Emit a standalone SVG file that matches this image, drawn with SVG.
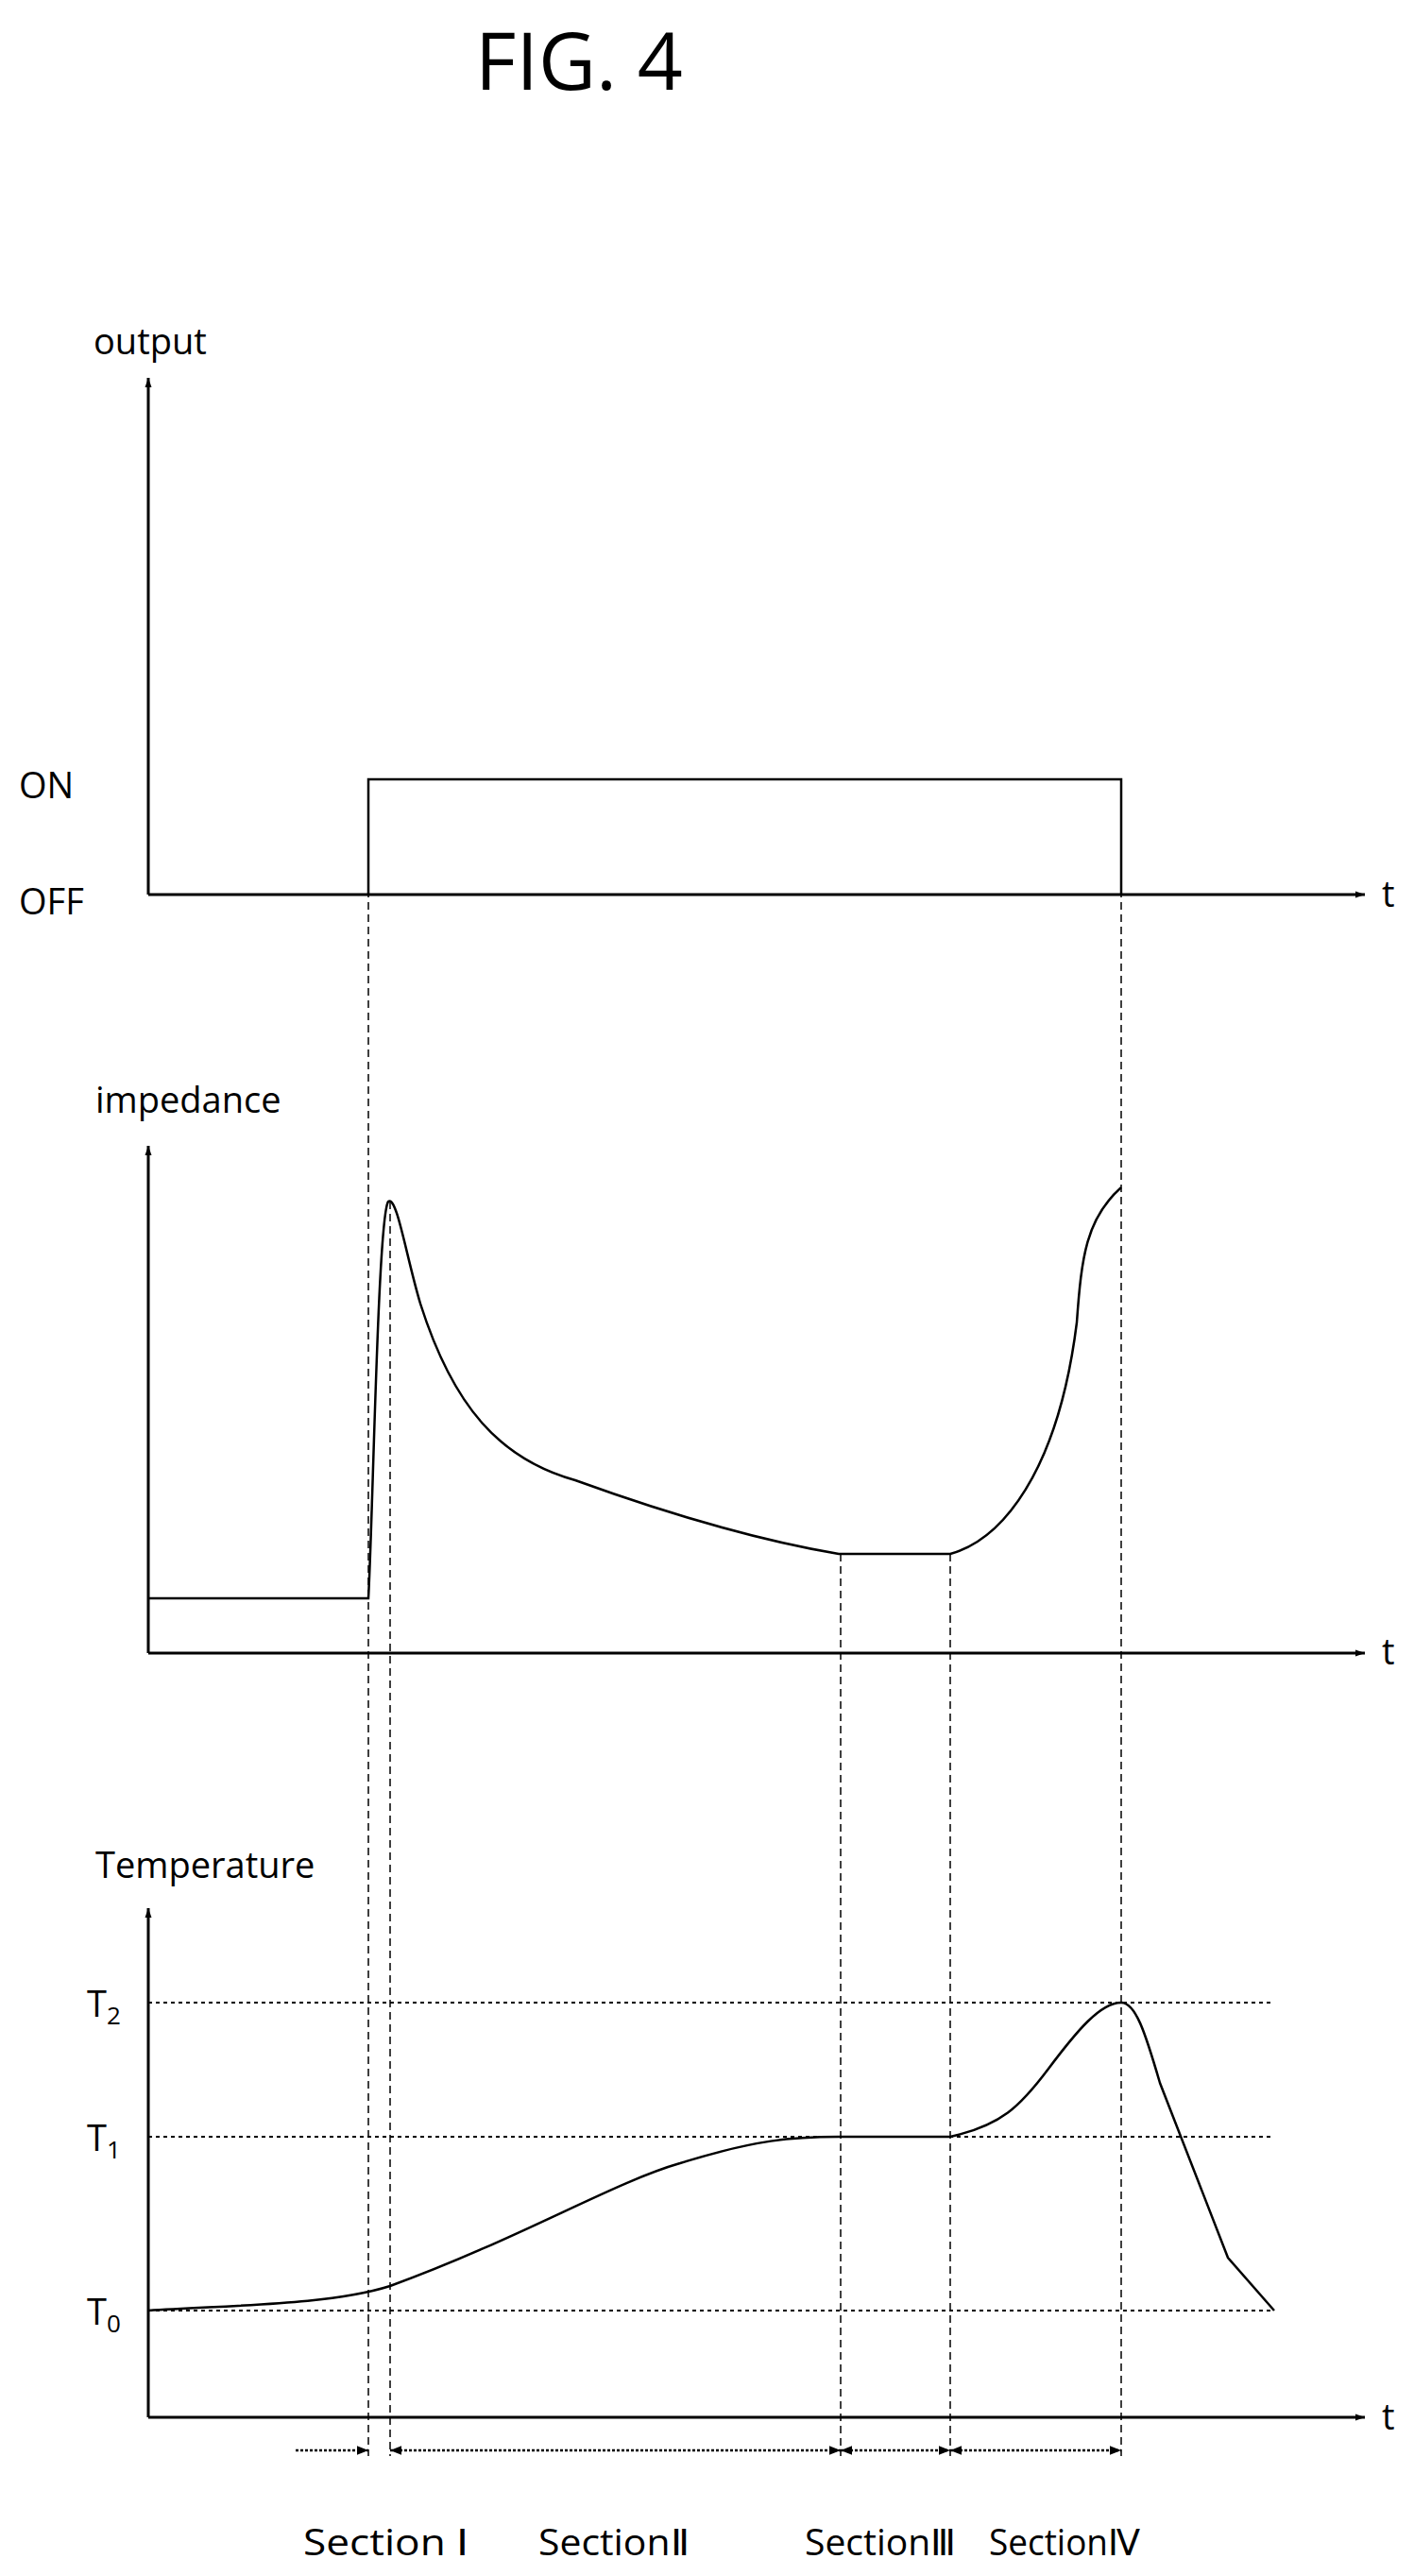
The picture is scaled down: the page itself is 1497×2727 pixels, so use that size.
<svg xmlns="http://www.w3.org/2000/svg" width="1497" height="2727" viewBox="0 0 1497 2727">
<defs>
<marker id="ah" viewBox="0 0 10 10" refX="10" refY="5" markerWidth="12" markerHeight="10" orient="auto-start-reverse" markerUnits="userSpaceOnUse"><path d="M0,1.5 L10,5 L0,8.5 z" fill="#000"/></marker>
<marker id="sa" viewBox="0 0 10 10" refX="10" refY="5" markerWidth="20" markerHeight="12" orient="auto-start-reverse" markerUnits="userSpaceOnUse"><path d="M0,1 L10,5 L0,9 z" fill="#000"/></marker>
</defs>
<style>
text{font-family:"Open Sans","Liberation Sans",sans-serif;fill:#000}
.lbl{font-size:38px}
.ax{stroke:#000;stroke-width:3;fill:none}
.cv{stroke:#000;stroke-width:2.5;fill:none}
.dash{stroke:#000;stroke-width:1.5;stroke-dasharray:8,5;fill:none}
.dot{stroke:#000;stroke-width:2;stroke-dasharray:4,4;fill:none}
.sec{stroke:#000;stroke-width:2.5;stroke-dasharray:3,2;fill:none}
</style>
<rect width="1497" height="2727" fill="#fff"/>
<text x="613" y="95" font-size="84" text-anchor="middle">FIG. 4</text>
<g id="output-graph">
<text class="lbl" x="99" y="375">output</text>
<text class="lbl" x="20" y="845">ON</text>
<text class="lbl" x="20" y="968">OFF</text>
<text class="lbl" x="1463" y="960">t</text>
<line class="ax" x1="157" y1="947" x2="157" y2="400" marker-end="url(#ah)"/>
<line class="ax" x1="157" y1="947" x2="1445" y2="947" marker-end="url(#ah)"/>
<polyline class="cv" points="390,947 390,825 1187,825 1187,947"/>
</g>
<g id="impedance-graph">
<text class="lbl" x="101" y="1178">impedance</text>
<text class="lbl" x="1463" y="1762">t</text>
<line class="ax" x1="157" y1="1750" x2="157" y2="1213" marker-end="url(#ah)"/>
<line class="ax" x1="157" y1="1750" x2="1445" y2="1750" marker-end="url(#ah)"/>
<path class="cv" d="M157,1692 L390,1692 C395,1600 400,1290 411,1272 C420,1265 430,1330 445,1380 C480,1490 530,1545 609,1567 C700,1600 800,1630 888,1645 L1006,1645 C1060,1630 1120,1560 1140,1400 C1145,1330 1150,1290 1187,1257"/>
</g>
<g id="temperature-graph">
<text class="lbl" x="101" y="1988">Temperature</text>
<text class="lbl" x="92" y="2135">T<tspan font-size="26" dy="8">2</tspan></text>
<text class="lbl" x="92" y="2277">T<tspan font-size="26" dy="8">1</tspan></text>
<text class="lbl" x="92" y="2461">T<tspan font-size="26" dy="8">0</tspan></text>
<text class="lbl" x="1463" y="2572">t</text>
<line class="ax" x1="157" y1="2559" x2="157" y2="2020" marker-end="url(#ah)"/>
<line class="ax" x1="157" y1="2559" x2="1445" y2="2559" marker-end="url(#ah)"/>
<line class="dot" x1="157" y1="2120" x2="1349" y2="2120"/>
<line class="dot" x1="157" y1="2262" x2="1349" y2="2262"/>
<line class="dot" x1="157" y1="2446" x2="1349" y2="2446"/>
<path class="cv" d="M157,2446 C250,2440 350,2440 413,2420 C550,2370 650,2310 720,2290 C800,2265 840,2262 888,2262 L1006,2262 C1060,2250 1080,2230 1110,2190 C1140,2150 1165,2120 1187,2120 C1202,2120 1212,2150 1228,2205 L1300,2390 L1349,2446"/>
</g>
<g id="connectors">
<line class="dash" x1="390" y1="825" x2="390" y2="2600"/>
<line class="dash" x1="413" y1="1272" x2="413" y2="2600"/>
<line class="dash" x1="890" y1="1645" x2="890" y2="2600"/>
<line class="dash" x1="1006" y1="1645" x2="1006" y2="2600"/>
<line class="dash" x1="1187" y1="825" x2="1187" y2="2600"/>
<line class="sec" x1="313" y1="2594" x2="390" y2="2594" marker-end="url(#sa)"/>
<line class="sec" x1="413" y1="2594" x2="890" y2="2594" marker-start="url(#sa)" marker-end="url(#sa)"/>
<line class="sec" x1="890" y1="2594" x2="1006" y2="2594" marker-start="url(#sa)" marker-end="url(#sa)"/>
<line class="sec" x1="1006" y1="2594" x2="1187" y2="2594" marker-start="url(#sa)" marker-end="url(#sa)"/>
</g>
<g id="section-labels">
<text class="lbl" x="321" y="2705" textLength="175" lengthAdjust="spacingAndGlyphs">Section Ⅰ</text>
<text class="lbl" x="570" y="2705" textLength="160" lengthAdjust="spacingAndGlyphs">SectionⅡ</text>
<text class="lbl" x="852" y="2705" textLength="160" lengthAdjust="spacingAndGlyphs">SectionⅢ</text>
<text class="lbl" x="1047" y="2705" textLength="160" lengthAdjust="spacingAndGlyphs">SectionⅣ</text>
</g>
</svg>
